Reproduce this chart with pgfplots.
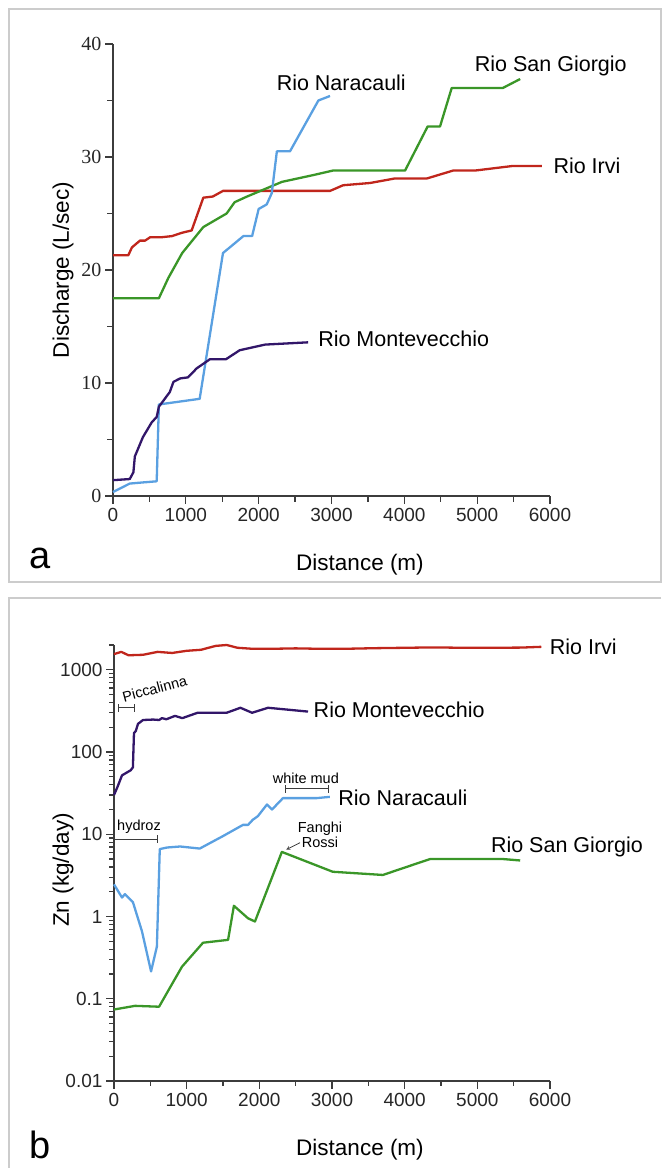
\documentclass[border=0pt]{standalone}
\usepackage{fontspec}
\setmainfont{Liberation Sans}
\newfontfamily\seriffont{Liberation Serif}
\usepackage{pgfplots}
\pgfplotsset{compat=1.18}
\definecolor{cIrvi}{RGB}{192,38,28}
\definecolor{cGiorgio}{RGB}{58,150,40}
\definecolor{cNara}{RGB}{90,160,225}
\definecolor{cMonte}{RGB}{50,22,105}
\definecolor{axgray}{RGB}{60,60,60}
\pgfplotsset{
  common/.style={
    scale only axis, clip=false,
    axis x line*=bottom, axis y line*=left,
    axis line style={axgray, line width=1.2pt},
    tick style={axgray, line width=1.2pt},
    tick align=outside,
    major tick length=8pt, minor tick length=6pt,
    xmin=0, xmax=6000,
    xtick={0,1000,2000,3000,4000,5000,6000},
    xticklabels={0,1000,2000,3000,4000,5000,6000},
    minor xtick={500,1500,2500,3500,4500,5500},
    scaled x ticks=false,
    xticklabel style={font=\fontsize{19}{19}\selectfont, text=black!85, yshift=-1pt},
    every axis plot/.append style={line width=2.3pt, line join=round},
  }
}
\newcommand{\lbl}{\fontsize{21.5}{21.5}\selectfont}
\newcommand{\ann}{\fontsize{14.5}{15}\selectfont}
\begin{document}
\begin{tikzpicture}
\useasboundingbox (0pt,0pt) rectangle (662pt,1168pt);
\draw[black!20, line width=1.2pt] (9pt,586pt) rectangle (661pt,1159pt);
\draw[black!20, line width=1.2pt] (661pt,570pt) -- (9pt,570pt) -- (9pt,0pt);

% ---------- panel a ----------
\begin{axis}[common,
  at={(113pt,672pt)}, anchor=south west,
  width=437pt, height=452pt,
  ymin=0, ymax=40,
  ytick={0,10,20,30,40}, yticklabels={0,10,20,30,40},
  minor ytick={5,15,25,35},
  yticklabel style={font=\seriffont\fontsize{20}{20}\selectfont, text=black!85},
]
\addplot[cIrvi] coordinates {
(0,21.3)(210,21.3)(260,22.0)(370,22.6)(440,22.6)(510,22.9)(670,22.9)(810,23.0)
(950,23.3)(1080,23.5)(1240,26.4)(1370,26.5)(1510,27.0)(2980,27.0)(3160,27.5)
(3530,27.7)(3870,28.1)(4310,28.1)(4670,28.8)(4970,28.8)(5480,29.2)(5890,29.2)};
\addplot[cGiorgio] coordinates {
(0,17.5)(630,17.5)(760,19.3)(950,21.5)(1240,23.8)(1560,25.0)(1670,26.0)(1840,26.5)
(2320,27.8)(2750,28.4)(3020,28.8)(4010,28.8)(4320,32.7)(4490,32.7)(4650,36.1)
(5350,36.1)(5590,36.9)};
\addplot[cNara] coordinates {
(0,0.35)(230,1.1)(410,1.2)(600,1.3)(630,8.1)(1190,8.6)(1510,21.5)(1790,23.0)
(1910,23.0)(2000,25.4)(2110,25.8)(2180,26.8)(2250,30.5)(2430,30.5)(2820,35.0)(2980,35.4)};
\addplot[cMonte] coordinates {
(0,1.4)(230,1.5)(280,2.1)(300,3.5)(410,5.2)(530,6.5)(600,7.0)(630,7.9)(780,9.2)
(830,10.1)(920,10.4)(1030,10.5)(1150,11.3)(1330,12.1)(1550,12.1)(1740,12.9)
(1880,13.1)(2090,13.4)(2680,13.6)};
\node[anchor=west, font=\lbl] at (axis cs:2200,36.6) {Rio Naracauli};
\node[anchor=west, font=\lbl] at (axis cs:2770,13.9) {Rio Montevecchio};
\node[anchor=west, font=\lbl] at (axis cs:4920,38.1) {Rio San Giorgio};
\node[anchor=west, font=\lbl] at (axis cs:6000,29.2) {Rio Irvi};
\end{axis}
\node[rotate=90, font=\fontsize{22.5}{22.5}\selectfont] at (63pt,898pt) {Discharge (L/sec)};
\node[font=\fontsize{22.5}{22.5}\selectfont] at (360pt,603pt) {Distance (m)};
\node[font=\fontsize{38}{38}\selectfont] at (40pt,610pt) {a};

% ---------- panel b ----------
\begin{axis}[common,
  at={(114pt,87pt)}, anchor=south west,
  width=436pt, height=436pt,
  ymode=log, ymin=0.01, ymax=2000,
  ytick={0.01,0.1,1,10,100,1000}, yticklabels={0.01,0.1,1,10,100,1000},
  minor ytick={0.02,0.03,0.04,0.05,0.06,0.07,0.08,0.09,
    0.2,0.3,0.4,0.5,0.6,0.7,0.8,0.9,2,3,4,5,6,7,8,9,
    20,30,40,50,60,70,80,90,200,300,400,500,600,700,800,900,2000},
  major tick length=8pt, minor tick length=5pt,
  yticklabel style={font=\fontsize{19}{19}\selectfont, text=black!85},
]
\addplot[cIrvi] coordinates {
(0,1550)(100,1650)(200,1500)(400,1520)(600,1650)(800,1600)(1000,1700)(1200,1750)
(1300,1850)(1400,1950)(1550,2000)(1700,1850)(1900,1800)(2200,1800)(2500,1820)
(2800,1800)(3200,1800)(3600,1830)(4000,1850)(4400,1870)(4800,1850)(5200,1850)
(5600,1860)(5880,1900)};
\addplot[cMonte] coordinates {
(0,30)(50,38)(110,52)(230,60)(260,65)(275,170)(300,180)(330,220)(400,245)(540,248)
(620,245)(660,258)(720,250)(840,275)(940,258)(1150,300)(1550,300)(1740,345)
(1900,300)(2120,345)(2670,310)};
\addplot[cNara] coordinates {
(0,2.46)(110,1.7)(150,1.87)(260,1.5)(385,0.66)(510,0.215)(590,0.43)(630,6.6)
(730,6.9)(910,7.1)(1180,6.7)(1500,9.5)(1775,13)(1845,13)(1910,15)(1980,16.6)
(2105,23)(2175,20)(2325,27.5)(2790,27.5)(2970,28.5)};
\addplot[cGiorgio] coordinates {
(0,0.074)(290,0.082)(620,0.08)(935,0.245)(1225,0.48)(1570,0.52)(1650,1.35)
(1845,0.95)(1940,0.87)(2310,6.1)(3010,3.5)(3700,3.2)(4350,5.0)(4490,5.0)
(5350,5.0)(5590,4.8)};
\node[anchor=west, font=\lbl] at (axis cs:5950,1900) {Rio Irvi};
\node[anchor=west, font=\lbl] at (axis cs:2700,330) {Rio Montevecchio};
\node[anchor=west, font=\lbl] at (axis cs:3040,27.5) {Rio Naracauli};
\node[anchor=west, font=\lbl] at (axis cs:5140,7.1) {Rio San Giorgio};
% annotations
\node[font=\ann, rotate=15] at (axis cs:560,590) {Piccalinna};
\draw[|-|, line width=1pt, axgray] (axis cs:55,345) -- (axis cs:290,345);
\node[font=\ann] at (axis cs:344,12.5) {hydroz};
\draw[|-|, line width=1pt, axgray] (axis cs:0,8.7) -- (axis cs:600,8.7);
\node[font=\ann] at (axis cs:2640,48) {white mud};
\draw[|-|, line width=1pt, axgray] (axis cs:2350,35.6) -- (axis cs:2960,35.6);
\node[font=\ann, align=center] at (axis cs:2835,9.8) {Fanghi\\Rossi};
\draw[-stealth, line width=0.8pt, axgray] (axis cs:2560,7.9) -- (axis cs:2370,6.5);
\end{axis}
\node[rotate=90, font=\fontsize{22.5}{22.5}\selectfont] at (63pt,298pt) {Zn (kg/day)};
\node[font=\fontsize{22.5}{22.5}\selectfont] at (360pt,18pt) {Distance (m)};
\node[font=\fontsize{38}{38}\selectfont] at (40pt,23pt) {b};
\end{tikzpicture}
\end{document}
